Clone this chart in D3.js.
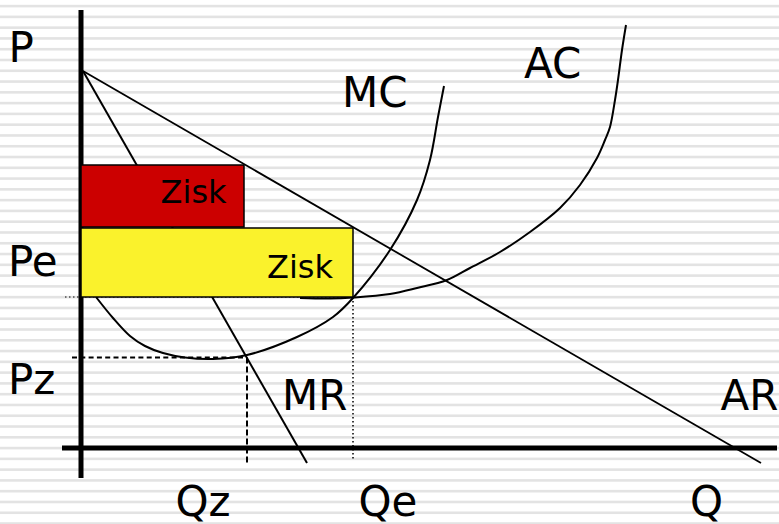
<!DOCTYPE html>
<html>
<head>
<meta charset="utf-8">
<script src="https://cdn.jsdelivr.net/npm/d3@7"></script>
<style>
  body { margin: 0; background: #fff; }
  text { font-family: "DejaVu Sans", Verdana, sans-serif; fill: #000; }
</style>
</head>
<body>
<div id="chart"></div>
<script>
// chart units: q = quantity, p = price (origin at the axes cross)
var arLine = [[0.2, 37.7], [68.0, -1.5]];
var mrLine = [[0.2, 37.7], [22.6, -1.5]];

var mcCurve = [[1.5, 15.1], [3.2, 13.0], [4.9, 11.2], [6.4, 10.2], [8.2, 9.5],
    [10.4, 9.05], [13.2, 8.9], [16.6, 9.3], [21.6, 11.1], [25.2, 13.1],
    [27.2, 15.0], [30.9, 19.8], [33.6, 24.8], [34.9, 28.8], [35.7, 33.1],
    [36.3, 36.2]];

var acCurve = [[21.9, 15.0], [24.9, 14.95], [27.2, 15.05], [30.9, 15.4],
    [33.6, 16.0], [36.6, 16.8], [38.9, 18.0], [41.9, 19.6], [44.9, 21.6],
    [47.9, 24.0], [49.9, 26.3], [51.6, 29.0], [52.4, 30.8], [52.9, 32.1],
    [53.4, 34.8], [53.7, 36.8], [54.1, 39.8], [54.5, 42.3]];

var Qz = 16.6, Qe = 27.2, Pz = 9.05, Pe = 15.1;
var profitTop = [28.3, 22.0];     // price at top of each profit box
var profitBottom = [22.1, 15.1];  // price at bottom
var profitRight = [16.3, 27.2];   // quantity at right edge
var profitColors = ["#cc0000", "#faf22c"];

var axisLabels = ["P", "Pe", "Pz", "Qz", "Qe", "Q"];
var axisLabelQ = [-7.24, -7.3, -7.3, 9.45, 27.75, 60.9];
var axisLabelP = [38.6, 17.2, 5.4, -6.8, -6.8, -6.8];

var curveLabels = ["MC", "AC", "MR", "AR"];
var curveLabelQ = [26.1, 44.3, 20.1, 63.95];
var curveLabelP = [34.1, 37.0, 3.8, 3.8];

var zisk = ["Zisk", "Zisk"];
var ziskQ = [7.96, 18.6];
var ziskP = [24.5, 16.97];

var svgWidth = 779;
var svgHeight = 524;

var svg = d3.select("#chart")
    .append("svg")
    .attr("width", svgWidth)
    .attr("height", svgHeight);

var x = d3.scaleLinear().domain([0, 69.6]).range([81, 777]);
var y = d3.scaleLinear().domain([0, 43.8]).range([448, 10]);

// striped background
svg.append("rect")
    .attr("width", svgWidth)
    .attr("height", svgHeight)
    .attr("fill", "#fff");

svg.selectAll(".stripe")
    .data(d3.range(49))
    .enter()
    .append("rect")
    .attr("class", "stripe")
    .attr("x", 0)
    .attr("y", d => 4.8 + d * 10.78)
    .attr("width", svgWidth)
    .attr("height", 2.6)
    .attr("fill", "#e3e3e3");

var line = d3.line().x(d => x(d[0])).y(d => y(d[1]));
var smooth = d3.line().x(d => x(d[0])).y(d => y(d[1])).curve(d3.curveCatmullRom.alpha(0.5));

// axes
svg.append("line")
    .attr("x1", x(0)).attr("x2", x(0))
    .attr("y1", y(43.8)).attr("y2", y(-3))
    .attr("stroke", "#000").attr("stroke-width", 5);

svg.append("line")
    .attr("x1", x(-1.9)).attr("x2", x(69.6))
    .attr("y1", y(0)).attr("y2", y(0))
    .attr("stroke", "#000").attr("stroke-width", 5);

// guide lines
svg.append("line")
    .attr("x1", x(-1.6)).attr("x2", x(Qe))
    .attr("y1", y(Pe)).attr("y2", y(Pe))
    .attr("stroke", "#000").attr("stroke-width", 1)
    .attr("stroke-dasharray", "1.5,2.5");

svg.append("line")
    .attr("x1", x(Qe)).attr("x2", x(Qe))
    .attr("y1", y(Pe)).attr("y2", y(-1.3))
    .attr("stroke", "#000").attr("stroke-width", 1.5)
    .attr("stroke-dasharray", "1.5,2.5");

svg.append("line")
    .attr("x1", x(-0.9)).attr("x2", x(Qz))
    .attr("y1", y(Pz)).attr("y2", y(Pz))
    .attr("stroke", "#000").attr("stroke-width", 2)
    .attr("stroke-dasharray", "5,3.3");

svg.append("line")
    .attr("x1", x(Qz)).attr("x2", x(Qz))
    .attr("y1", y(Pz)).attr("y2", y(-1.5))
    .attr("stroke", "#000").attr("stroke-width", 2)
    .attr("stroke-dasharray", "6,3");

// demand and marginal revenue
svg.append("path").datum(arLine)
    .attr("d", line).attr("fill", "none")
    .attr("stroke", "#000").attr("stroke-width", 1.8);

svg.append("path").datum(mrLine)
    .attr("d", line).attr("fill", "none")
    .attr("stroke", "#000").attr("stroke-width", 2);

// cost curves
svg.append("path").datum(mcCurve)
    .attr("d", smooth).attr("fill", "none")
    .attr("stroke", "#000").attr("stroke-width", 2);

svg.append("path").datum(acCurve)
    .attr("d", smooth).attr("fill", "none")
    .attr("stroke", "#000").attr("stroke-width", 2);

// profit boxes
svg.selectAll(".profit")
    .data(profitTop)
    .enter()
    .append("rect")
    .attr("class", "profit")
    .attr("x", x(0))
    .attr("y", d => y(d))
    .attr("width", (d, i) => x(profitRight[i]) - x(0))
    .attr("height", (d, i) => y(profitBottom[i]) - y(d))
    .attr("fill", (d, i) => profitColors[i])
    .attr("stroke", "#000")
    .attr("stroke-width", 1.5);

svg.selectAll(".zisk")
    .data(zisk)
    .enter()
    .append("text")
    .attr("class", "zisk")
    .attr("x", (d, i) => x(ziskQ[i]))
    .attr("y", (d, i) => y(ziskP[i]))
    .attr("font-size", "32px")
    .text(d => d);

// labels
svg.selectAll(".axisLabel")
    .data(axisLabels)
    .enter()
    .append("text")
    .attr("class", "axisLabel")
    .attr("x", (d, i) => x(axisLabelQ[i]))
    .attr("y", (d, i) => y(axisLabelP[i]))
    .attr("font-size", "42px")
    .text(d => d);

svg.selectAll(".curveLabel")
    .data(curveLabels)
    .enter()
    .append("text")
    .attr("class", "curveLabel")
    .attr("x", (d, i) => x(curveLabelQ[i]))
    .attr("y", (d, i) => y(curveLabelP[i]))
    .attr("font-size", "42px")
    .text(d => d);
</script>
</body>
</html>
